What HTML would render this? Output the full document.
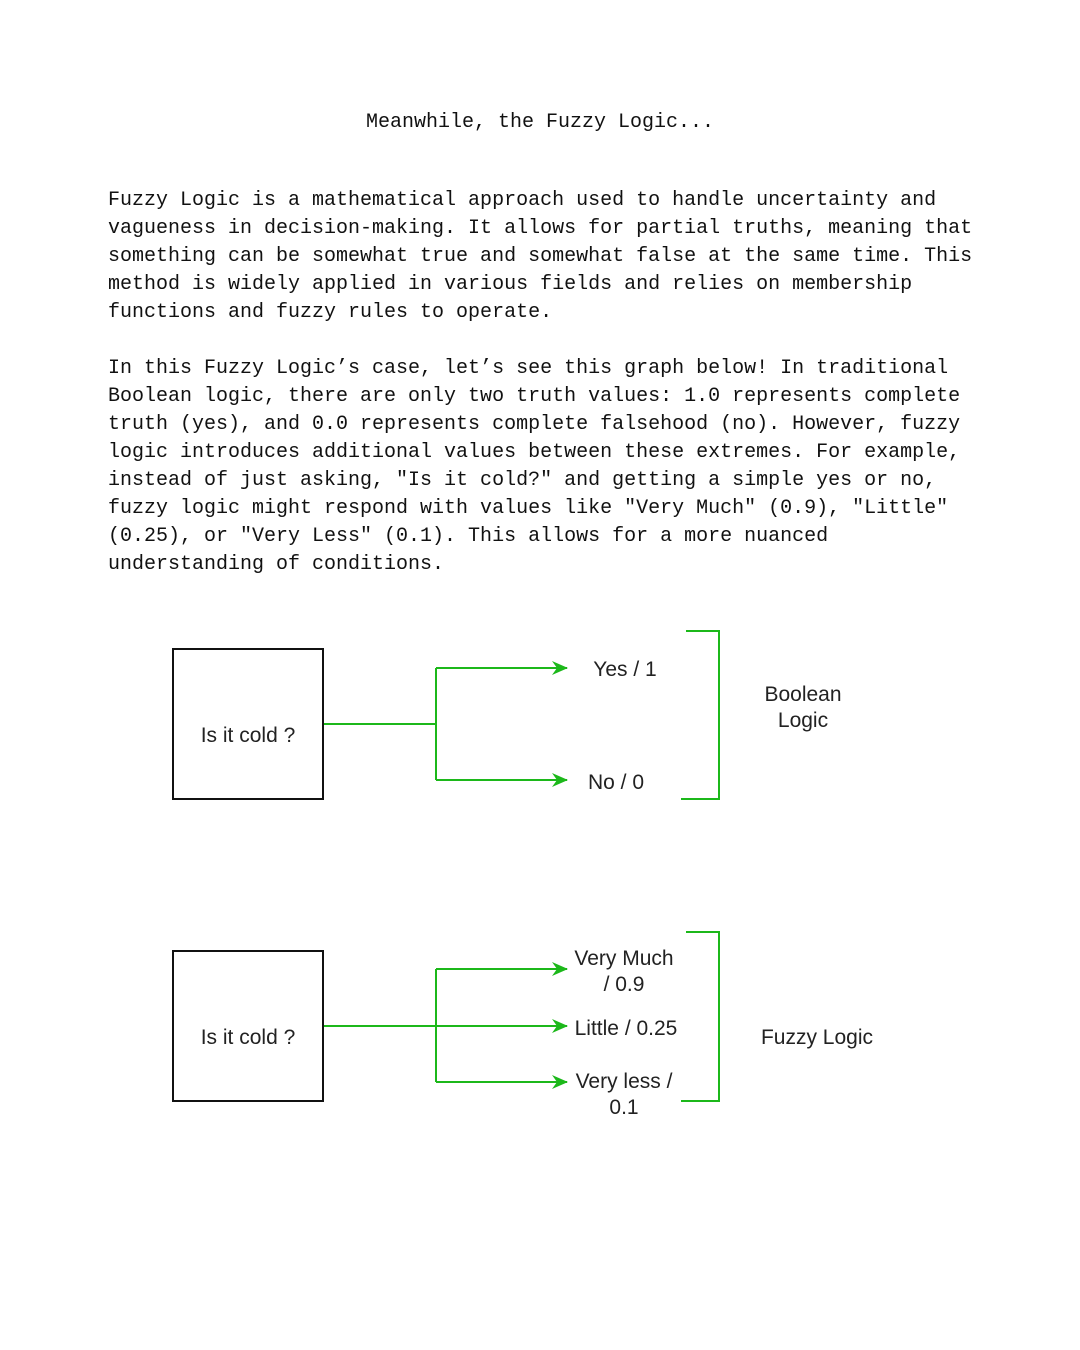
<!DOCTYPE html>
<html><head><meta charset="utf-8"><style>
body{margin:0;width:1080px;height:1350px;background:#fff;position:relative;overflow:hidden}
.m{position:absolute;font-family:"Liberation Mono",monospace;font-size:20px;line-height:28px;color:#111;white-space:pre;margin:0}
svg{position:absolute;left:0;top:0}
svg text{font-family:"Liberation Sans",sans-serif;font-size:21px;fill:#222}
</style></head><body>
<div class="m" style="left:366px;top:109px">Meanwhile, the Fuzzy Logic...</div>
<div class="m" style="left:108px;top:187px">Fuzzy Logic is a mathematical approach used to handle uncertainty and
vagueness in decision-making. It allows for partial truths, meaning that
something can be somewhat true and somewhat false at the same time. This
method is widely applied in various fields and relies on membership
functions and fuzzy rules to operate.</div>
<div class="m" style="left:108px;top:355px">In this Fuzzy Logic’s case, let’s see this graph below! In traditional
Boolean logic, there are only two truth values: 1.0 represents complete
truth (yes), and 0.0 represents complete falsehood (no). However, fuzzy
logic introduces additional values between these extremes. For example,
instead of just asking, "Is it cold?" and getting a simple yes or no,
fuzzy logic might respond with values like "Very Much" (0.9), "Little"
(0.25), or "Very Less" (0.1). This allows for a more nuanced
understanding of conditions.</div>
<svg width="1080" height="1350">
<defs><marker id="a" markerWidth="16" markerHeight="14" refX="15" refY="7" orient="auto" markerUnits="userSpaceOnUse"><path d="M0,0 L16,7 L0,14 L5,7 Z" fill="#1cb81a"/></marker></defs>
<g fill="none" stroke="#111" stroke-width="2">
<rect x="173" y="649" width="150" height="150"/>
<rect x="173" y="951" width="150" height="150"/>
</g>
<g fill="none" stroke="#1cb81a" stroke-width="2">
<path d="M324 724 H436 M436 668 V780"/>
<path d="M436 668 H567" marker-end="url(#a)"/>
<path d="M436 780 H567" marker-end="url(#a)"/>
<path d="M686 631 H719 V799 H681"/>
<path d="M324 1026 H567" marker-end="url(#a)"/>
<path d="M436 969 V1082"/>
<path d="M436 969 H567" marker-end="url(#a)"/>
<path d="M436 1082 H567" marker-end="url(#a)"/>
<path d="M686 932 H719 V1101 H681"/>
</g>
<text x="248" y="742" text-anchor="middle">Is it cold ?</text>
<text x="248" y="1044" text-anchor="middle">Is it cold ?</text>
<text x="625" y="676" text-anchor="middle">Yes / 1</text>
<text x="616" y="789" text-anchor="middle">No / 0</text>
<text x="803" y="701" text-anchor="middle">Boolean</text>
<text x="803" y="727" text-anchor="middle">Logic</text>
<text x="624" y="965" text-anchor="middle">Very Much</text>
<text x="624" y="991" text-anchor="middle">/ 0.9</text>
<text x="626" y="1035" text-anchor="middle">Little / 0.25</text>
<text x="624" y="1088" text-anchor="middle">Very less /</text>
<text x="624" y="1114" text-anchor="middle">0.1</text>
<text x="817" y="1044" text-anchor="middle">Fuzzy Logic</text>
</svg>
</body></html>
